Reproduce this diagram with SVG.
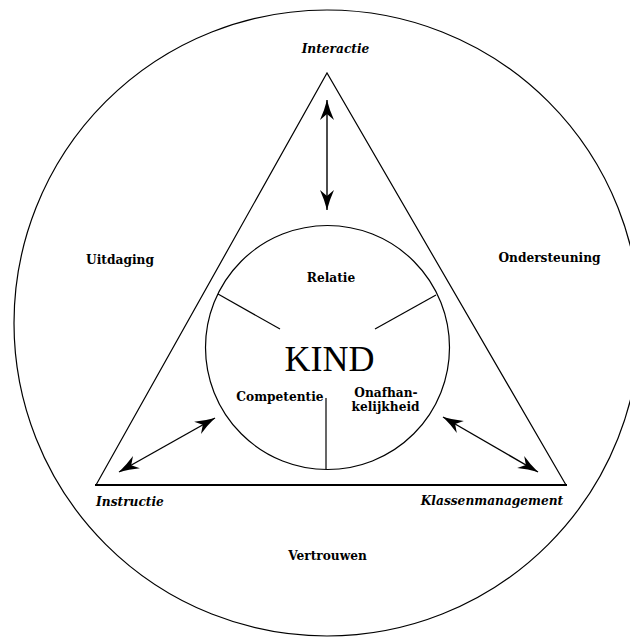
<svg xmlns="http://www.w3.org/2000/svg" width="630" height="637" viewBox="0 0 630 637">
<defs>
<style>
.ln{fill:none;stroke:#000;stroke-width:1.2}
.ar{fill:none;stroke:#000;stroke-width:1.4}
.lb{font-family:"DejaVu Serif","Liberation Serif",serif;font-weight:bold;font-size:12.2px;fill:#000;text-anchor:middle}
.it{font-style:italic}
.kind{font-family:"Liberation Serif","DejaVu Serif",serif;font-size:36px;fill:#000;text-anchor:middle}
</style>
<marker id="ah" viewBox="-21 -8 22 16" refX="0" refY="0" markerWidth="22" markerHeight="16" markerUnits="userSpaceOnUse" orient="auto-start-reverse">
<path d="M0,0 Q-10,-2.5 -20,-7 L-14,0 L-20,7 Q-10,2.5 0,0 Z" fill="#000"/>
</marker>
</defs>
<rect width="630" height="637" fill="#fff"/>
<g id="outer-circle">
<circle class="ln" cx="327" cy="323" r="313"/>
</g>
<g id="triangle">
<path class="ln" d="M566,485 L327,73 L96,485"/>
<line x1="95" y1="485" x2="567" y2="485" stroke="#000" stroke-width="2"/>
</g>
<g id="kind">
<circle class="ln" cx="327.5" cy="347.5" r="122"/>
<line class="ln" x1="218" y1="294" x2="280" y2="329"/>
<line class="ln" x1="436" y1="295" x2="375" y2="329"/>
<line class="ln" x1="326" y1="398" x2="326" y2="469"/>
<text class="kind" x="329.5" y="371">KIND</text>
<text class="lb" x="331" y="282">Relatie</text>
<text class="lb" x="280" y="401">Competentie</text>
<text class="lb" x="386" y="397">Onafhan-</text>
<text class="lb" x="385.5" y="411">kelijkheid</text>
</g>
<g id="labels">
<text class="lb it" x="335.5" y="53">Interactie</text>
<text class="lb" x="120" y="264">Uitdaging</text>
<text class="lb" x="549.5" y="262">Ondersteuning</text>
<text class="lb it" x="130" y="506">Instructie</text>
<text class="lb it" x="492" y="505">Klassenmanagement</text>
<text class="lb" x="327.5" y="560">Vertrouwen</text>
</g>
<g id="connectors">
<line class="ar" x1="327" y1="100" x2="327" y2="210" marker-start="url(#ah)" marker-end="url(#ah)"/>
<line class="ar" x1="119" y1="472" x2="215" y2="418" marker-start="url(#ah)" marker-end="url(#ah)"/>
<line class="ar" x1="443" y1="417" x2="538" y2="472" marker-start="url(#ah)" marker-end="url(#ah)"/>
</g>
</svg>
